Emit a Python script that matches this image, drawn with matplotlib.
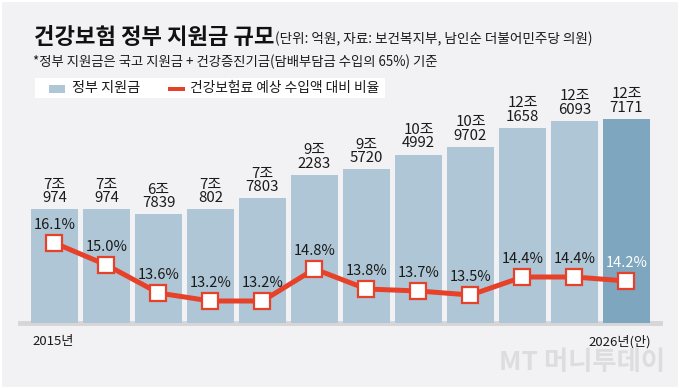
import numpy as np
import matplotlib
matplotlib.use("Agg")
import matplotlib.pyplot as plt
from matplotlib.patches import Rectangle

plt.rcParams['font.family'] = ['Noto Sans CJK KR', 'DejaVu Sans']

years = ["2015년", "", "", "", "", "", "", "", "", "", "", "2026년(안)"]
support = [70974, 70974, 67839, 70802, 77803, 92283, 95720, 104992, 109702, 121658, 126093, 127171]
ratio = [16.1, 15.0, 13.6, 13.2, 13.2, 14.8, 13.8, 13.7, 13.5, 14.4, 14.4, 14.2]

W, H = 680, 389
BG = "#f2f2f4"
BAR = "#aec6d5"
BAR_LAST = "#7fa6bf"
RED = "#e8412a"


def fx(px):
    return px / W


def fy(py):
    return 1 - py / H


def won_label(v):
    jo, eok = divmod(v, 10000)
    return f"{jo}조\n{eok}"


fig = plt.figure(figsize=(W / 100, H / 100), dpi=100, facecolor=BG)
fig.patches.append(Rectangle((0, 0), 1, 1, transform=fig.transFigure,
                             fill=False, edgecolor="white", lw=3))

# axes: left 20px, right 660px, baseline at 323px, top 110px
ax = fig.add_axes([fx(20), fy(323), fx(640), (323 - 110) / H])
ax.set_facecolor("none")
x = np.arange(len(support))
colors = [BAR] * (len(support) - 1) + [BAR_LAST]
ax.bar(x, support, width=0.9, color=colors, zorder=2)
ax.set_xlim((20 - 54.5) / 52, (660 - 54.5) / 52)
ax.set_ylim(0, 127171 * 213 / 204)
ax.axhline(0, color="#d6d6d8", lw=3.5, zorder=1, clip_on=False)
for s in ax.spines.values():
    s.set_visible(False)
ax.set_xticks([])
ax.set_yticks([])

for i, v in enumerate(support):
    ax.annotate(won_label(v), (i, v), xytext=(0, 3), textcoords="offset points",
                ha="center", va="bottom", fontsize=10.8, color="#1a1a1a",
                linespacing=0.95)

ax2 = ax.twinx()
ax2.set_ylim(12.1, 12.1 + 213 / 20)
ax2.axis("off")
ax2.plot(x, ratio, color=RED, lw=3.6, marker="s", markersize=11,
         markerfacecolor="white", markeredgecolor=RED, markeredgewidth=1.6,
         zorder=3)
for i, r in enumerate(ratio):
    c = "white" if i == len(ratio) - 1 else "#1a1a1a"
    ax2.annotate(f"{r:.1f}%", (i, r), xytext=(0, 8), textcoords="offset points",
                 ha="center", va="bottom", fontsize=10.5, color=c)

# year labels
fig.text(fx(32), fy(342), years[0], ha="left", va="center", fontsize=9.5, color="#1a1a1a")
fig.text(fx(651), fy(342), years[-1], ha="right", va="center", fontsize=9.5, color="#1a1a1a")

# title block
fig.text(fx(34), fy(37), "건강보험 정부 지원금 규모", ha="left", va="center",
         fontsize=16, fontweight="bold", color="#111111")
fig.text(fx(275), fy(39), "(단위: 억원, 자료: 보건복지부, 남인순 더불어민주당 의원)",
         ha="left", va="center", fontsize=9.8, color="#1a1a1a")
fig.text(fx(33), fy(62), "*정부 지원금은 국고 지원금 + 건강증진기금(담배부담금 수입의 65%) 기준",
         ha="left", va="center", fontsize=9.6, color="#1a1a1a")

# legend
fig.patches.append(Rectangle((fx(35), fy(98)), fx(350), 20 / H, transform=fig.transFigure,
                             facecolor="white", edgecolor="none"))
fig.patches.append(Rectangle((fx(49), fy(93)), fx(16), 8 / H, transform=fig.transFigure,
                             facecolor=BAR, edgecolor="none"))
fig.text(fx(72), fy(88), "정부 지원금", ha="left", va="center", fontsize=10.2, color="#1a1a1a")
fig.patches.append(Rectangle((fx(168), fy(91)), fx(17), 4 / H, transform=fig.transFigure,
                             facecolor=RED, edgecolor="none"))
fig.text(fx(190), fy(88), "건강보험료 예상 수입액 대비 비율", ha="left", va="center",
         fontsize=9.9, color="#1a1a1a")

# watermark
fig.text(fx(665), fy(362), "MT 머니투데이", ha="right", va="center", fontsize=19,
         color="#dddde0", fontweight="bold")

fig.savefig("out.png", dpi=100, facecolor=BG)
